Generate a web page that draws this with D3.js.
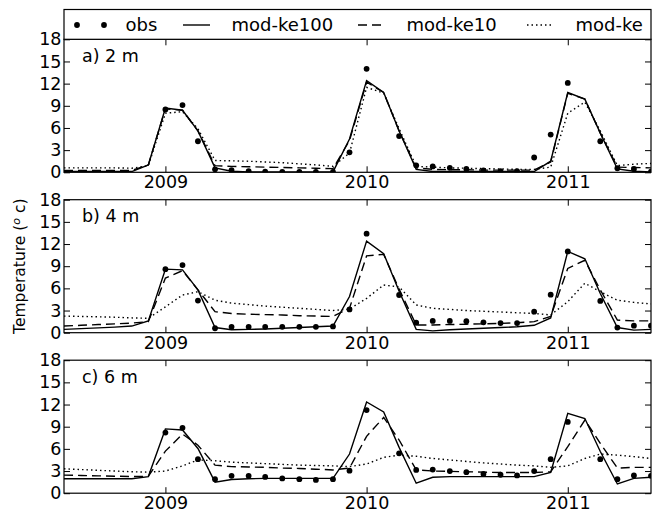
<!DOCTYPE html>
<html>
<head>
<meta charset="utf-8">
<script src="https://d3js.org/d3.v7.min.js"></script>
<style>
  body { margin: 0; background: #fff; }
  svg { display: block; font-family: "DejaVu Sans", sans-serif; }
</style>
</head>
<body>
<div id="chart"></div>
<script>
// Monthly series, Jul 2008 .. Jun 2011
const months = [
  '2008-07','2008-08','2008-09','2008-10','2008-11','2008-12',
  '2009-01','2009-02','2009-03','2009-04','2009-05','2009-06','2009-07','2009-08','2009-09','2009-10','2009-11','2009-12',
  '2010-01','2010-02','2010-03','2010-04','2010-05','2010-06','2010-07','2010-08','2010-09','2010-10','2010-11','2010-12',
  '2011-01','2011-02','2011-03','2011-04','2011-05','2011-06'
];
const yearTicks = ['2009-01', '2010-01', '2011-01'];
const yTicks = [0, 3, 6, 9, 12, 15, 18];
const legendLabels = ['obs', 'mod-ke100', 'mod-ke10', 'mod-ke'];
const panelLabels = ['a) 2 m', 'b) 4 m', 'c) 6 m'];

// a) 2 m
const obsA = [null,null,null,null,null,null, 8.5,9.1,4.2,0.4,0.3,0.15,0.1,0.05,0.05,0.05,0.05,2.7, 14.0,null,4.9,0.95,0.8,0.6,0.45,0.25,0.15,0.15,2.0,5.1, 12.1,null,4.2,0.55,0.45,0.1];
const ke100A = [0.1,0.1,0.1,0.1,0.1,1.0, 8.7,8.4,5.6,0.6,0.15,0.05,0.05,0.05,0.05,0.05,0.05,4.5, 12.4,10.8,5.6,0.4,0.1,0.1,0.1,0.1,0.1,0.1,0.1,1.5, 10.8,9.9,5.3,0.45,0.15,0.05];
const ke10A = [0.25,0.25,0.25,0.25,0.25,1.0, 8.6,8.4,5.6,0.9,0.8,0.75,0.7,0.65,0.6,0.55,0.5,4.3, 12.2,10.8,5.6,0.6,0.4,0.35,0.35,0.3,0.3,0.3,0.3,1.4, 10.7,9.9,5.3,0.7,0.65,0.6];
const keA = [0.6,0.6,0.6,0.6,0.55,0.9, 8.0,8.2,5.9,1.6,1.55,1.5,1.4,1.3,1.15,1.0,0.8,2.6, 11.5,10.7,5.9,0.8,0.7,0.6,0.55,0.5,0.45,0.4,0.4,0.7, 8.0,9.5,5.6,0.9,1.1,1.2];

// b) 4 m
const obsB = [null,null,null,null,null,null, 8.6,9.15,4.35,0.6,0.8,0.8,0.8,0.8,0.8,0.8,0.85,3.15, 13.4,null,5.1,1.35,1.6,1.6,1.55,1.4,1.3,1.3,2.85,5.15, 11.0,null,4.3,0.7,0.95,0.95];
const ke100B = [0.45,0.55,0.65,0.75,0.9,1.6, 8.6,8.5,5.8,0.7,0.4,0.45,0.5,0.6,0.7,0.8,0.9,4.9, 12.4,10.7,5.6,0.45,0.25,0.4,0.5,0.6,0.7,0.8,1.0,2.0, 11.0,10.0,5.3,0.7,0.35,0.45];
const ke10B = [0.9,1.0,1.1,1.2,1.3,1.5, 7.4,8.4,5.8,2.85,2.6,2.5,2.45,2.4,2.3,2.25,2.2,3.3, 10.4,10.6,5.9,1.05,1.05,1.1,1.15,1.2,1.25,1.35,1.5,2.2, 8.7,9.8,5.8,1.7,1.6,1.6];
const keB = [2.25,2.2,2.15,2.1,2.0,1.95, 3.5,5.1,5.55,4.4,4.0,3.8,3.6,3.45,3.3,3.15,3.0,3.2, 4.65,6.45,6.2,3.75,3.3,3.15,3.0,2.9,2.8,2.7,2.6,2.4, 4.2,6.7,5.55,4.4,4.1,3.9];

// c) 6 m
const obsC = [null,null,null,null,null,null, 8.2,8.85,4.6,1.9,2.35,2.35,2.2,2.0,1.9,1.8,1.9,3.05, 11.25,null,5.4,3.15,3.2,3.0,2.85,2.6,2.5,2.4,3.0,4.6, 9.65,null,4.6,1.9,2.4,2.35];
const ke100C = [1.95,1.95,1.95,1.95,1.95,2.25, 8.7,8.55,6.05,1.5,1.85,1.95,2.0,2.0,2.0,2.0,2.0,5.3, 12.35,11.0,6.2,1.35,2.15,2.25,2.25,2.25,2.25,2.25,2.25,2.8, 10.8,10.1,5.65,1.25,2.0,2.15];
const ke10C = [2.45,2.4,2.35,2.3,2.25,2.3, 5.7,8.0,6.5,3.8,3.6,3.55,3.5,3.4,3.35,3.25,3.15,3.4, 7.7,10.25,7.2,3.15,3.0,2.95,2.9,2.85,2.8,2.8,2.8,2.9, 6.3,9.9,6.75,3.4,3.5,3.5];
const keC = [3.3,3.2,3.1,3.0,2.9,2.85, 3.0,3.7,4.5,4.4,4.2,4.1,4.0,3.9,3.8,3.75,3.7,3.6, 3.95,4.85,5.15,5.0,4.7,4.5,4.3,4.1,3.95,3.8,3.7,3.5, 3.7,4.7,5.3,5.15,4.95,4.7];

const panels = [
  { label: panelLabels[0], obs: obsA, series: [ke100A, ke10A, keA] },
  { label: panelLabels[1], obs: obsB, series: [ke100B, ke10B, keB] },
  { label: panelLabels[2], obs: obsC, series: [ke100C, ke10C, keC] }
];

const W = 656, H = 514;
const left = 64, right = 651;
const tops = [39.3, 199.7, 360.2], ph = 133;
const fs = 17.5;
const dashes = [null, '9,5', '1.5,3'];
const lw = 1.4, dotR = 2.9;

const parse = d3.timeParse('%Y-%m');
const dates = months.map(parse);

const svg = d3.select('#chart').append('svg')
  .attr('width', W).attr('height', H);

const x = d3.scaleTime().domain(d3.extent(dates)).range([left, right]);

panels.forEach((p, pi) => {
  const top = tops[pi];
  const y = d3.scaleLinear().domain([0, 18]).range([top + ph, top]);
  const g = svg.append('g');

  const clipId = 'clip' + pi;
  svg.append('clipPath').attr('id', clipId)
    .append('rect').attr('x', left).attr('y', top).attr('width', right - left).attr('height', ph);

  const plot = g.append('g').attr('clip-path', 'url(#' + clipId + ')');

  // model lines
  const line = d3.line()
    .defined(d => d != null)
    .x((d, i) => x(dates[i]))
    .y(d => y(d));

  p.series.forEach((s, si) => {
    plot.append('path')
      .datum(s)
      .attr('d', line)
      .attr('fill', 'none')
      .attr('stroke', '#000')
      .attr('stroke-width', lw)
      .attr('stroke-dasharray', dashes[si])
      .attr('stroke-linejoin', 'miter');
  });

  // observations
  plot.append('g').selectAll('circle')
    .data(p.obs.map((v, i) => ({ v, d: dates[i] })).filter(o => o.v != null))
    .join('circle')
    .attr('cx', o => x(o.d))
    .attr('cy', o => y(o.v))
    .attr('r', dotR)
    .attr('fill', '#000');

  // axes, ticks pointing inward on all sides
  const yearDates = yearTicks.map(parse);
  const axB = g.append('g').attr('transform', 'translate(0,' + (top + ph) + ')')
    .call(d3.axisBottom(x).tickValues(yearDates).tickFormat(d3.timeFormat('%Y'))
      .tickSizeInner(-6).tickSizeOuter(0).tickPadding(3.5));
  const axT = g.append('g').attr('transform', 'translate(0,' + top + ')')
    .call(d3.axisTop(x).tickValues(yearDates).tickFormat('')
      .tickSizeInner(-6).tickSizeOuter(0));
  const axL = g.append('g').attr('transform', 'translate(' + left + ',0)')
    .call(d3.axisLeft(y).tickValues(yTicks).tickSizeInner(-6).tickSizeOuter(0).tickPadding(2.5));
  const axR = g.append('g').attr('transform', 'translate(' + right + ',0)')
    .call(d3.axisRight(y).tickValues(yTicks).tickFormat('').tickSizeInner(-6).tickSizeOuter(0));

  [axB, axT, axL, axR].forEach(a => {
    a.select('.domain').remove();
    a.selectAll('line').attr('stroke', '#000').attr('stroke-width', 1);
    a.selectAll('text').attr('font-size', fs).attr('font-family', '"DejaVu Sans", sans-serif').attr('fill', '#000');
  });

  // frame
  g.append('rect')
    .attr('x', left).attr('y', top).attr('width', right - left).attr('height', ph)
    .attr('fill', 'none').attr('stroke', '#000').attr('stroke-width', 1.2);

  g.append('text')
    .attr('x', 82).attr('y', top + 22.5)
    .attr('font-size', fs)
    .text(p.label);
});

// y label
const yl = svg.append('text')
  .attr('transform', 'translate(25,' + (tops[1] + ph / 2) + ') rotate(-90)')
  .attr('text-anchor', 'middle')
  .attr('font-size', 15.5);
yl.append('tspan').text('Temperature (');
yl.append('tspan').attr('font-size', 11).attr('font-style', 'italic').attr('dy', '-0.45em').text('o');
yl.append('tspan').attr('dy', '0.3em').text(' c)');

// legend
const leg = svg.append('g');
leg.append('rect')
  .attr('x', left).attr('y', 9.5).attr('width', right - left).attr('height', tops[0] - 9.5)
  .attr('fill', '#fff').attr('stroke', '#000').attr('stroke-width', 1.2);

const ly = 25;
const handleX = [77, 183, 358, 527];
const hl = 27;
legendLabels.forEach((lab, i) => {
  const hx = handleX[i];
  if (i === 0) {
    [hx, hx + hl].forEach(cx => leg.append('circle').attr('cx', cx).attr('cy', ly).attr('r', dotR).attr('fill', '#000'));
  } else {
    leg.append('line')
      .attr('x1', hx).attr('x2', hx + hl).attr('y1', ly).attr('y2', ly)
      .attr('stroke', '#000').attr('stroke-width', lw)
      .attr('stroke-dasharray', dashes[i - 1]);
  }
  leg.append('text')
    .attr('x', hx + hl + 21.5).attr('y', ly)
    .attr('dy', '0.36em')
    .attr('font-size', 18)
    .text(lab);
});
</script>
</body>
</html>
